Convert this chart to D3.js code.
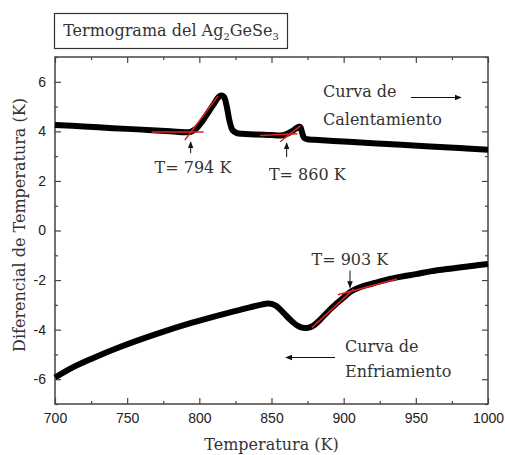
<!DOCTYPE html>
<html>
<head>
<meta charset="utf-8">
<script src="https://cdn.jsdelivr.net/npm/d3@7"></script>
<style>
html,body{margin:0;padding:0;background:#fff;}
svg{display:block;}
.serif{font-family:"DejaVu Serif",serif;fill:#333;}
.tick text{font-family:"Liberation Sans",Arial,sans-serif;font-size:14px;fill:#222;}
</style>
</head>
<body>
<svg id="chart" width="505" height="455"></svg>
<script>
// ---- data ----
const xTicks = [700, 750, 800, 850, 900, 950, 1000];
const yTicks = [-6, -4, -2, 0, 2, 4, 6];

// Heating curve (Curva de Calentamiento)
const heatT = [700, 720, 740, 760, 780, 790, 794, 798, 802, 806, 810, 813, 815, 817, 819, 821, 823, 826, 830, 840, 850, 856, 860, 864, 867, 869, 870, 871, 872, 873, 875, 880, 900, 920, 940, 960, 980, 1000];
const heatV = [4.26, 4.20, 4.13, 4.07, 4.00, 3.96, 3.98, 4.12, 4.40, 4.75, 5.10, 5.36, 5.45, 5.40, 5.00, 4.40, 4.05, 3.93, 3.90, 3.87, 3.85, 3.83, 3.88, 4.00, 4.12, 4.19, 4.17, 4.00, 3.80, 3.72, 3.68, 3.66, 3.59, 3.52, 3.46, 3.39, 3.33, 3.26];

// Cooling curve (Curva de Enfriamiento)
const coolT = [700, 712, 725, 745, 770, 795, 820, 835, 843, 848, 853, 858, 863, 868, 872, 875, 879, 883, 887, 891, 895, 900, 905, 910, 920, 930, 940, 950, 960, 975, 990, 1000];
const coolV = [-5.93, -5.53, -5.18, -4.70, -4.18, -3.72, -3.32, -3.10, -2.99, -2.95, -3.03, -3.30, -3.60, -3.84, -3.93, -3.93, -3.84, -3.64, -3.40, -3.16, -2.95, -2.70, -2.46, -2.32, -2.14, -1.98, -1.86, -1.76, -1.65, -1.53, -1.42, -1.35];

// Red tangent lines: [T1, V1, T2, V2]
const tangentT1 = [767, 790, 842, 856, 878, 896];
const tangentV1 = [3.97, 3.65, 3.83, 3.58, -3.92, -2.59];
const tangentT2 = [803, 813, 868, 870, 907, 937];
const tangentV2 = [3.97, 5.43, 3.90, 4.22, -2.36, -1.96];

// Onset annotations
const annLabels = ["T= 794 K", "T= 860 K", "T= 903 K"];
const annArrowT = [794, 860.5, 904.4];
const annArrowFrom = [3.12, 2.96, -1.62];
const annArrowTo = [3.57, 3.53, -2.30];
const annTextT = [795.6, 874.8, 904.3];
const annTextV = [2.31, 2.03, -1.38];

// ---- layout ----
const svg = d3.select("#chart");
const L = 55, R = 488, T = 57, B = 404;
const x = d3.scaleLinear().domain([700, 1000]).range([L, R]);
const y = d3.scaleLinear().domain([-7, 7]).range([B, T]);

const defs = svg.append("defs");
defs.append("marker").attr("id", "ah").attr("viewBox", "0 0 10 10")
  .attr("refX", 9).attr("refY", 5).attr("markerWidth", 7).attr("markerHeight", 7)
  .attr("markerUnits", "userSpaceOnUse").attr("orient", "auto")
  .append("path").attr("d", "M0,1 L10,5 L0,9 z").attr("fill", "#111");

// axes with inward ticks on all sides
const minorX = d3.range(700, 1001, 25);
const minorY = d3.range(-7, 7.01, 1);
function ax(g, axisFn, scale, majors, minors, showLabels) {
  const a = axisFn(scale).tickValues(majors).tickSizeInner(-6).tickSizeOuter(0)
    .tickPadding(showLabels ? 9 : 0).tickFormat(showLabels ? (d => String(d)) : "");
  g.call(a);
  const m = axisFn(scale).tickValues(minors.filter(v => !majors.includes(v))).tickSizeInner(-3).tickSizeOuter(0).tickFormat("");
  g.append("g").call(m).select(".domain").remove();
  g.selectAll("line").attr("stroke", "#444").attr("stroke-width", 1.2);
  g.selectAll(".domain").remove();
}
ax(svg.append("g").attr("transform", `translate(0,${B})`), d3.axisBottom, x, xTicks, minorX, true);
ax(svg.append("g").attr("transform", `translate(0,${T})`), d3.axisTop, x, xTicks, minorX, false);
ax(svg.append("g").attr("transform", `translate(${L},0)`), d3.axisLeft, y, yTicks, minorY, true);
ax(svg.append("g").attr("transform", `translate(${R},0)`), d3.axisRight, y, yTicks, minorY, false);
svg.selectAll(".tick text").attr("fill", "#222");

svg.append("rect").attr("x", L).attr("y", T).attr("width", R - L).attr("height", B - T)
  .attr("fill", "none").attr("stroke", "#444").attr("stroke-width", 1.5);

// curves
const line = d3.line().x(d => x(d[0])).y(d => y(d[1])).curve(d3.curveCatmullRom.alpha(0.5));
const heat = heatT.map((t, i) => [t, heatV[i]]);
const cool = coolT.map((t, i) => [t, coolV[i]]);
[heat, cool].forEach(data => {
  svg.append("path").datum(data).attr("d", line).attr("fill", "none")
    .attr("stroke", "#000").attr("stroke-width", 6).attr("stroke-linejoin", "round").attr("stroke-linecap", "butt");
});

// tangent lines
svg.append("g").selectAll("line").data(tangentT1).join("line")
  .attr("x1", (d, i) => x(tangentT1[i])).attr("y1", (d, i) => y(tangentV1[i]))
  .attr("x2", (d, i) => x(tangentT2[i])).attr("y2", (d, i) => y(tangentV2[i]))
  .attr("stroke", "#e52222").attr("stroke-width", 1.5);

// annotations
annLabels.forEach((lab, i) => {
  svg.append("line").attr("x1", x(annArrowT[i])).attr("x2", x(annArrowT[i]))
    .attr("y1", y(annArrowFrom[i])).attr("y2", y(annArrowTo[i]))
    .attr("stroke", "#111").attr("stroke-width", 1).attr("marker-end", "url(#ah)");
  svg.append("text").attr("class", "serif").attr("x", x(annTextT[i])).attr("y", y(annTextV[i]))
    .attr("text-anchor", "middle").attr("font-size", 16).text(lab);
});

// curve labels
const lab = svg.append("g").attr("class", "serif").attr("font-size", 16);
lab.append("text").attr("x", 323).attr("y", 97).text("Curva de");
lab.append("text").attr("x", 323).attr("y", 125).text("Calentamiento");
lab.append("text").attr("x", 345).attr("y", 352).text("Curva de");
lab.append("text").attr("x", 345).attr("y", 377).text("Enfriamiento");
svg.append("line").attr("x1", 411).attr("x2", 461).attr("y1", 97.5).attr("y2", 97.5)
  .attr("stroke", "#111").attr("stroke-width", 1).attr("marker-end", "url(#ah)");
svg.append("line").attr("x1", 335).attr("x2", 286).attr("y1", 357.5).attr("y2", 357.5)
  .attr("stroke", "#111").attr("stroke-width", 1).attr("marker-end", "url(#ah)");

// title box
svg.append("rect").attr("x", 54.5).attr("y", 13.5).attr("width", 233).attr("height", 35)
  .attr("fill", "#fff").attr("stroke", "#333").attr("stroke-width", 1.2);
const tt = svg.append("text").attr("class", "serif").attr("x", 171).attr("y", 36)
  .attr("text-anchor", "middle").attr("font-size", 16);
tt.append("tspan").text("Termograma del Ag");
tt.append("tspan").attr("font-size", 10).attr("dy", 4).text("2");
tt.append("tspan").attr("dy", -4).text("GeSe");
tt.append("tspan").attr("font-size", 10).attr("dy", 4).text("3");

// axis titles
svg.append("text").attr("class", "serif").attr("x", (L + R) / 2).attr("y", 450)
  .attr("text-anchor", "middle").attr("font-size", 16).text("Temperatura (K)");
svg.append("text").attr("class", "serif").attr("transform", "translate(25,225) rotate(-90)")
  .attr("text-anchor", "middle").attr("font-size", 16).text("Diferencial de Temperatura (K)");
</script>
</body>
</html>
